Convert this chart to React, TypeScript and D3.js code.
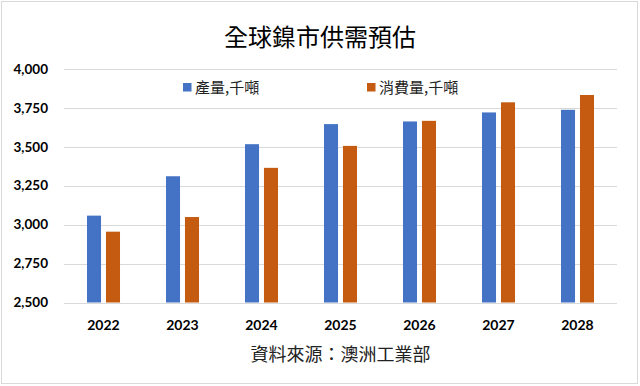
import React, {useEffect, useRef} from 'react';
import * as d3 from 'd3';

// chart data
const years = ['2022', '2023', '2024', '2025', '2026', '2027', '2028'];
const production = [3058, 3311, 3517, 3646, 3663, 3721, 3738];
const consumption = [2955, 3049, 3365, 3506, 3667, 3786, 3833];
const series_names = ['產量,千噸', '消費量,千噸'];
const y_ticks = [2500, 2750, 3000, 3250, 3500, 3750, 4000];
const title = '全球鎳市供需預估';
const source = '資料來源：澳洲工業部';

const colors = ['#4472C4', '#C55A11'];
const cjk_font = '"Noto Sans CJK TC", "Noto Sans", sans-serif';
const num_font = 'Lato, "Open Sans", sans-serif';

export default function App() {
  const ref = useRef<SVGSVGElement | null>(null);

  useEffect(() => {
    const width = 640;
    const height = 386;
    const margin = {top: 69, right: 23, bottom: 83.5, left: 64};

    const svg = d3.select(ref.current);
    svg.selectAll('*').remove();
    svg.attr('width', width).attr('height', height);

    // chart border
    svg.append('rect')
      .attr('x', 1.5).attr('y', 1.5)
      .attr('width', width - 4).attr('height', height - 4)
      .attr('fill', '#fff')
      .attr('stroke', '#d9d9d9');

    // scales
    const x0 = d3.scaleBand()
      .domain(years)
      .range([margin.left, width - margin.right])
      .paddingInner(0.582)
      .paddingOuter(0.291);

    const x1 = d3.scaleBand()
      .domain(['0', '1'])
      .range([0, x0.bandwidth()])
      .paddingInner(0.26);

    const y = d3.scaleLinear()
      .domain([2500, 4000])
      .range([height - margin.bottom, margin.top]);

    // gridlines
    svg.append('g')
      .selectAll('line')
      .data(y_ticks)
      .join('line')
      .attr('x1', margin.left)
      .attr('x2', width - margin.right)
      .attr('y1', d => Math.round(y(d)) + 0.5)
      .attr('y2', d => Math.round(y(d)) + 0.5)
      .attr('stroke', '#d9d9d9')
      .attr('stroke-width', 1);

    // y labels
    svg.append('g')
      .selectAll('text')
      .data(y_ticks)
      .join('text')
      .attr('x', 48)
      .attr('y', d => y(d))
      .attr('dy', '0.35em')
      .attr('text-anchor', 'end')
      .attr('font-family', num_font)
      .attr('font-weight', 'bold')
      .attr('font-size', 13.5)
      .attr('fill', '#000')
      .text(d => d3.format(',')(d));

    // bars
    const all_series = [production, consumption];
    all_series.forEach((values, si) => {
      svg.append('g')
        .selectAll('rect')
        .data(values)
        .join('rect')
        .attr('x', (d, i) => (x0(years[i]) as number) + (x1(String(si)) as number))
        .attr('y', d => y(d))
        .attr('width', x1.bandwidth())
        .attr('height', d => y(2500) - y(d))
        .attr('fill', colors[si]);
    });

    // x labels
    svg.append('g')
      .selectAll('text')
      .data(years)
      .join('text')
      .attr('x', d => (x0(d) as number) + x0.bandwidth() / 2)
      .attr('y', 330)
      .attr('text-anchor', 'middle')
      .attr('font-family', num_font)
      .attr('font-weight', 'bold')
      .attr('font-size', 14)
      .attr('fill', '#000')
      .text(d => d);

    // legend
    const legend_x = [183, 367];
    series_names.forEach((name, i) => {
      svg.append('rect')
        .attr('x', legend_x[i])
        .attr('y', 83)
        .attr('width', 8.5)
        .attr('height', 8.5)
        .attr('fill', colors[i]);
      svg.append('text')
        .attr('x', legend_x[i] + 12)
        .attr('y', 93)
        .attr('font-family', cjk_font)
        .attr('font-size', 15)
        .attr('fill', '#222')
        .text(name);
    });

    // title
    svg.append('text')
      .attr('x', 320)
      .attr('y', 46)
      .attr('text-anchor', 'middle')
      .attr('font-family', cjk_font)
      .attr('font-size', 24)
      .attr('fill', '#000')
      .text(title);

    // source note
    svg.append('text')
      .attr('x', (margin.left + width - margin.right) / 2)
      .attr('y', 361)
      .attr('text-anchor', 'middle')
      .attr('font-family', cjk_font)
      .attr('font-size', 18)
      .attr('fill', '#222')
      .text(source);
  }, []);

  return (
    <div style={{position: 'absolute', left: 0, top: 0}}>
      <svg ref={ref} style={{display: 'block'}}></svg>
    </div>
  );
}
